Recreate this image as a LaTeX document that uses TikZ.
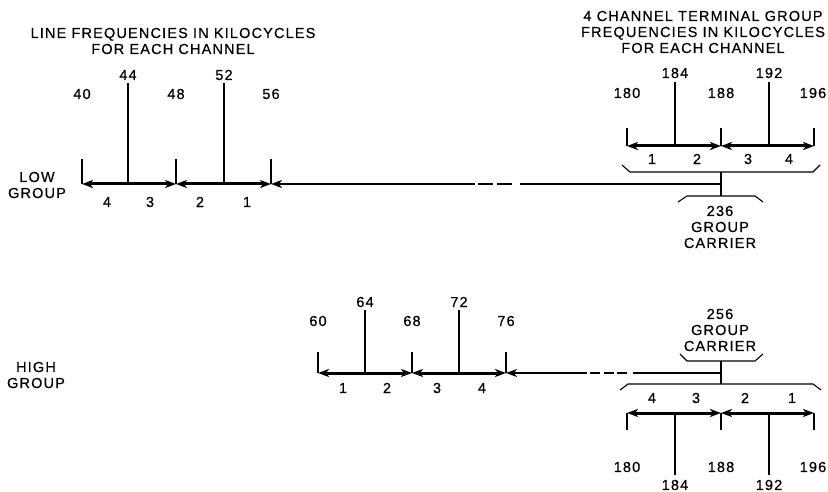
\documentclass[tikz,border=0pt]{standalone}
\usepackage{fontspec}
\setmainfont{Liberation Sans}[LetterSpace=8,FakeBold=0.5]
\usetikzlibrary{arrows.meta}

\tikzset{
  >={Stealth[length=11pt,width=8pt,inset=3pt]},
  every node/.style={font=\fontsize{14.5}{16}\selectfont,inner sep=0pt,align=center},
  band/.style={<->,line width=3pt},
  feed/.style={<-,line width=1.7pt},
  gap/.style={line width=1.7pt,dash pattern=on 15pt off 4pt},
  shortgap/.style={line width=1.7pt,dash pattern=on 10pt off 3.5pt},
  plain/.style={line width=1.7pt},
  tick/.style={line width=1.1pt},
  brace/.style={line width=1.1pt},
}

\begin{document}
\begin{tikzpicture}[x=1pt,y=-1pt]
  \useasboundingbox (0,0) rectangle (828,492);

  % titles
  \node (ltitle) at (173,41) {LINE FREQUENCIES IN KILOCYCLES\\FOR EACH CHANNEL};
  \node (rtitle) at (703,32) {4 CHANNEL TERMINAL GROUP\\FREQUENCIES IN KILOCYCLES\\FOR EACH CHANNEL};

  % low group, line side
  \node (low) at (37,185) {LOW\\GROUP};
  \coordinate (l40) at (82,184);  \coordinate (l40t) at (82,159);
  \coordinate (l44) at (128,184); \coordinate (l44t) at (128,83);
  \coordinate (l48) at (176,184); \coordinate (l48t) at (176,159);
  \coordinate (l52) at (224,184); \coordinate (l52t) at (224,83);
  \coordinate (l56) at (271,184); \coordinate (l56t) at (271,159);
  \node (n40) at (82,94) {40};
  \node (n44) at (128,75) {44};
  \node (n48) at (176,94) {48};
  \node (n52) at (224,75) {52};
  \node (n56) at (271,94) {56};
  \draw[tick] (l40) -- (l40t);
  \draw[tick] (l44) -- (l44t);
  \draw[tick] (l48) -- (l48t);
  \draw[tick] (l52) -- (l52t);
  \draw[tick] (l56) -- (l56t);
  \draw[band] (l40) -- (l48);
  \draw[band] (l48) -- (l56);
  \node (lc4) at (107,202) {4};
  \node (lc3) at (150,202) {3};
  \node (lc2) at (200,202) {2};
  \node (lc1) at (247,202) {1};

  % low group feed to carrier
  \coordinate (la) at (475,184);
  \coordinate (lda) at (478,184);
  \coordinate (ldb) at (512,184);
  \coordinate (lb) at (520,184);
  \coordinate (lc) at (721,184);
  \draw[feed] (l56) -- (la);
  \draw[gap] (lda) -- (ldb);
  \draw[plain] (lb) -- (lc);

  % low group, terminal side
  \coordinate (t180) at (627,146); \coordinate (t180t) at (627,128);
  \coordinate (t184) at (675,146); \coordinate (t184t) at (675,82);
  \coordinate (t188) at (721,146); \coordinate (t188t) at (721,128);
  \coordinate (t192) at (769,146); \coordinate (t192t) at (769,82);
  \coordinate (t196) at (814,146); \coordinate (t196t) at (814,128);
  \node (m180) at (627,93) {180};
  \node (m184) at (675,73) {184};
  \node (m188) at (721,93) {188};
  \node (m192) at (769,73) {192};
  \node (m196) at (813,93) {196};
  \draw[tick] (t180) -- (t180t);
  \draw[tick] (t184) -- (t184t);
  \draw[tick] (t188) -- (t188t);
  \draw[tick] (t192) -- (t192t);
  \draw[tick] (t196) -- (t196t);
  \draw[band] (t180) -- (t188);
  \draw[band] (t188) -- (t196);
  \node (tc1) at (652,159) {1};
  \node (tc2) at (697,159) {2};
  \node (tc3) at (748,159) {3};
  \node (tc4) at (789,159) {4};

  \draw[brace] (622,165) -- (630,172) -- (813,172) -- (820,165);
  \coordinate (lbr) at (721,172);
  \coordinate (lcar) at (721,196);
  \draw[brace] (lbr) -- (lcar);
  \draw[brace] (678,202) -- (687,196) -- (755,196) -- (763,202);
  \node (lcarrier) at (720,227) {236\\GROUP\\CARRIER};

  % high group, line side
  \node (high) at (36,375) {HIGH\\GROUP};
  \coordinate (h60) at (318,373); \coordinate (h60t) at (318,352);
  \coordinate (h64) at (365,373); \coordinate (h64t) at (365,310);
  \coordinate (h68) at (412,373); \coordinate (h68t) at (412,352);
  \coordinate (h72) at (459,373); \coordinate (h72t) at (459,310);
  \coordinate (h76) at (506,373); \coordinate (h76t) at (506,352);
  \node (n60) at (318,321) {60};
  \node (n64) at (365,302) {64};
  \node (n68) at (412,321) {68};
  \node (n72) at (459,302) {72};
  \node (n76) at (506,321) {76};
  \draw[tick] (h60) -- (h60t);
  \draw[tick] (h64) -- (h64t);
  \draw[tick] (h68) -- (h68t);
  \draw[tick] (h72) -- (h72t);
  \draw[tick] (h76) -- (h76t);
  \draw[band] (h60) -- (h68);
  \draw[band] (h68) -- (h76);
  \node (hc1) at (343,388) {1};
  \node (hc2) at (387,388) {2};
  \node (hc3) at (437,388) {3};
  \node (hc4) at (482,388) {4};

  % high group feed to carrier
  \coordinate (ha) at (587,373);
  \coordinate (hda) at (590,373);
  \coordinate (hdb) at (627,373);
  \coordinate (hb) at (633,373);
  \coordinate (hc) at (721,373);
  \draw[feed] (h76) -- (ha);
  \draw[shortgap] (hda) -- (hdb);
  \draw[plain] (hb) -- (hc);

  \node (hcarrier) at (720,330) {256\\GROUP\\CARRIER};
  \draw[brace] (680,354) -- (687,361) -- (755,361) -- (763,354);
  \coordinate (hcar) at (721,361);
  \coordinate (hbr) at (721,384);
  \draw[brace] (hcar) -- (hbr);
  \draw[brace] (620,390) -- (628,384) -- (813,384) -- (821,390);

  % high group, terminal side
  \coordinate (s180) at (627,413); \coordinate (s180b) at (627,430);
  \coordinate (s184) at (675,413); \coordinate (s184b) at (675,475);
  \coordinate (s188) at (721,413); \coordinate (s188b) at (721,430);
  \coordinate (s192) at (769,413); \coordinate (s192b) at (769,475);
  \coordinate (s196) at (814,413); \coordinate (s196b) at (814,430);
  \node (p180) at (627,467) {180};
  \node (p184) at (675,485) {184};
  \node (p188) at (721,467) {188};
  \node (p192) at (769,485) {192};
  \node (p196) at (813,467) {196};
  \draw[tick] (s180) -- (s180b);
  \draw[tick] (s184) -- (s184b);
  \draw[tick] (s188) -- (s188b);
  \draw[tick] (s192) -- (s192b);
  \draw[tick] (s196) -- (s196b);
  \draw[band] (s180) -- (s188);
  \draw[band] (s188) -- (s196);
  \node (sc4) at (652,398) {4};
  \node (sc3) at (696,398) {3};
  \node (sc2) at (745,398) {2};
  \node (sc1) at (792,398) {1};
\end{tikzpicture}
\end{document}
